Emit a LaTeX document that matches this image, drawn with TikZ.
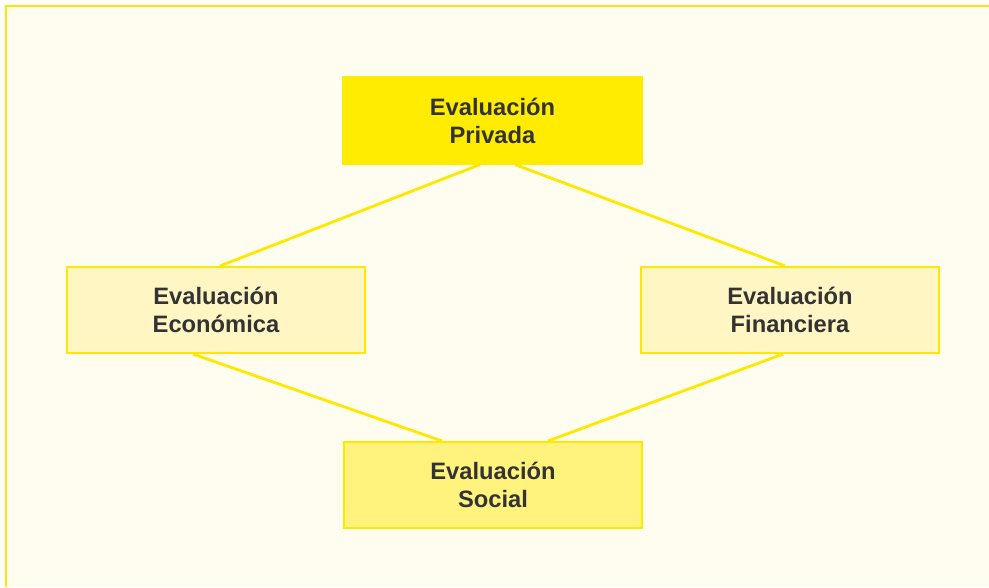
\documentclass[tikz,border=0pt]{standalone}
\usepackage{fontspec}
\setmainfont{Liberation Sans}
\definecolor{cream}{HTML}{FFFDEF}
\definecolor{linea}{HTML}{FFE800}
\definecolor{fuerte}{HTML}{FFEC00}
\definecolor{claro}{HTML}{FFF6C4}
\definecolor{medio}{HTML}{FFF27D}
\definecolor{texto}{HTML}{333333}

\begin{document}
\begin{tikzpicture}
                        [
                            caja/.style = {draw=linea, shape=rectangle, minimum height=1.72cm, minimum width=5.96cm, line width=1.2pt, align=center, text=texto, font=\fontsize{13.5}{16}\selectfont\bfseries},
                            privada/.style = {caja, fill=fuerte, draw=fuerte},
                            lateral/.style = {caja, fill=claro},
                            social/.style = {caja, fill=medio},
                            enlace/.style = {draw=linea, line width=1.6pt},
                        ]

                        \useasboundingbox (0,0) rectangle (19.78,-11.74);
                        \fill[cream] (0.12,-0.12) rectangle (19.78,-11.74);
                        \draw[linea, line width=1.6pt] (0.12,-11.74) -- (0.12,-0.12) -- (19.78,-0.12);

                        \node[privada] (priv) at (9.85,-2.41)   {Evaluación\\Privada};
                        \node[lateral] (econ) at (4.32,-6.2)    {Evaluación\\Económica};
                        \node[lateral] (fin)  at (15.8,-6.2)    {Evaluación\\Financiera};
                        \node[social]  (soc)  at (9.86,-9.7)    {Evaluación\\Social};

                        \draw[enlace] ([xshift=-0.25cm]priv.south) -- ([xshift=0.08cm]econ.north);
                        \draw[enlace] ([xshift=0.45cm]priv.south) -- ([xshift=-0.1cm]fin.north);
                        \draw[enlace] ([xshift=-0.46cm]econ.south) -- ([xshift=-1.02cm]soc.north);
                        \draw[enlace] ([xshift=-0.14cm]fin.south) -- ([xshift=1.1cm]soc.north);
                    \end{tikzpicture}
\end{document}
